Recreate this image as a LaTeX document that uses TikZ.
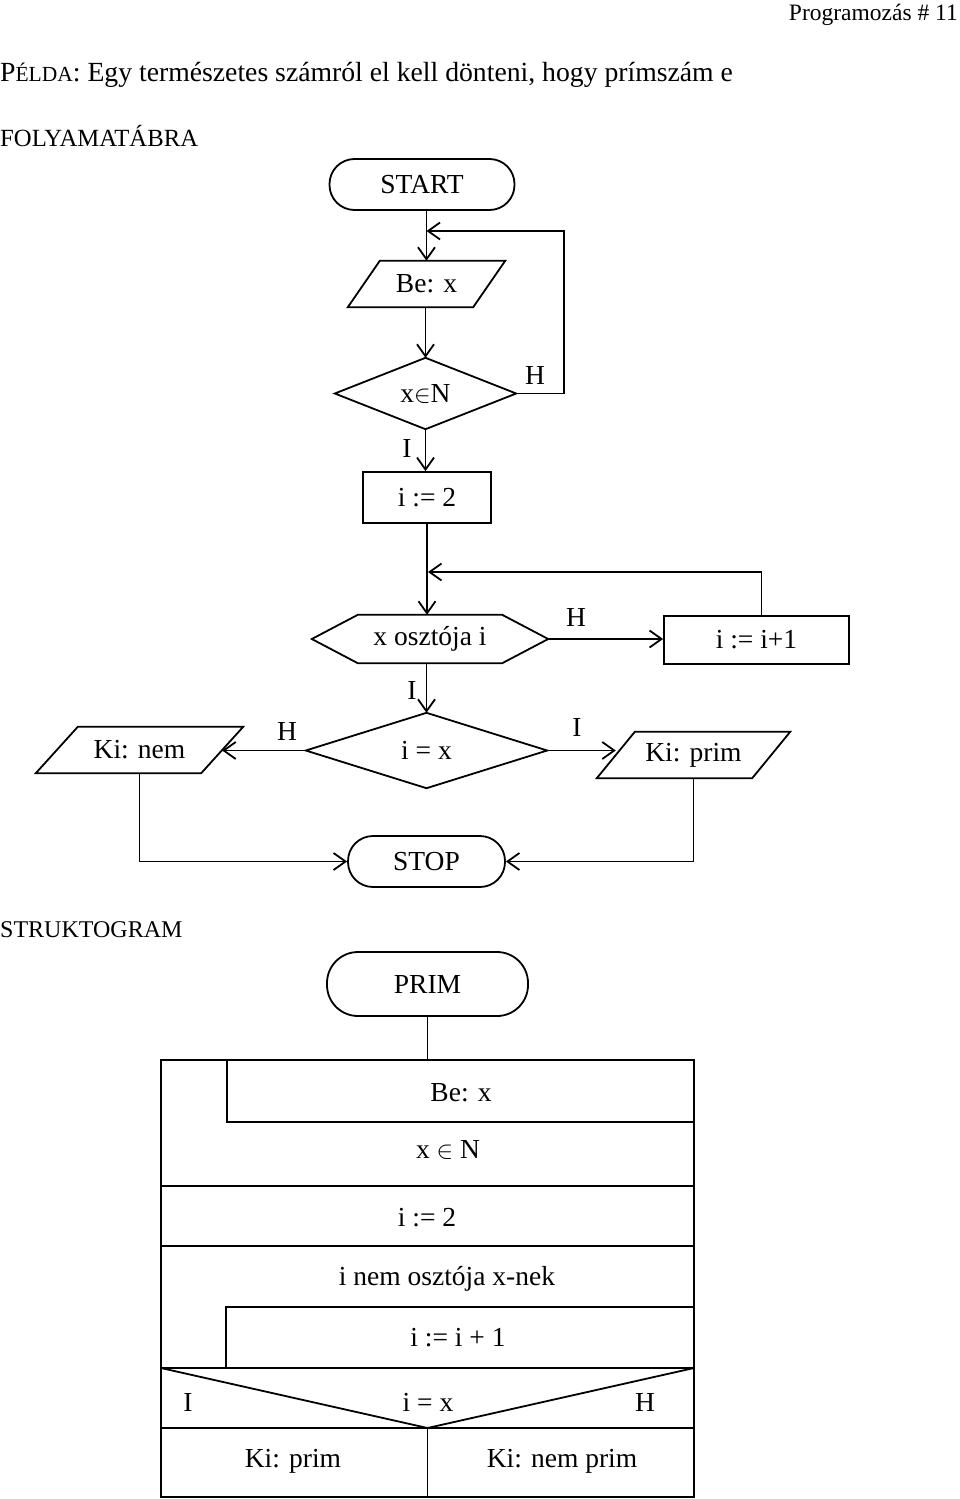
\documentclass[tikz,border=0pt]{standalone}
\usepackage{fontspec}
\setmainfont{Liberation Serif}
\usetikzlibrary{arrows.meta,calc}
\tikzset{
  every node/.style={font=\fontsize{27.5}{31}\selectfont, inner sep=0pt},
  lw/.style={line width=1.8pt},
  arr/.style={lw, -{Straight Barb[length=12pt,width=17pt,line width=1.8pt]}},
  plain/.style={rectangle, draw=none},
  boxed/.style={rectangle, draw, lw},
  term/.style={rectangle, draw, lw, rounded corners=#1},
  caption/.style={font=\fontsize{24}{28}\selectfont, anchor=base west},
}
\begin{document}
\begin{tikzpicture}[x=1pt,y=-1pt]
\useasboundingbox (0,0) rectangle (960,1499);

% header
\node[caption, font=\fontsize{23.5}{28}\selectfont, anchor=base east] (hdr) at (958,20) {Programozás \# 11};
\node[anchor=base west] (title) at (0,81) {{\fontsize{27.7}{31}\selectfont P}{\fontsize{21.5}{31}\selectfont ÉLDA}{\fontsize{27.7}{31}\selectfont : Egy természetes számról el kell dönteni, hogy prímszám e}};
\node[caption, font=\fontsize{24.7}{28}\selectfont] (fol) at (0,146) {FOLYAMATÁBRA};

% flowchart nodes
\node[term=25pt, minimum width=185pt, minimum height=51pt] (start) at (422,184.5) {START};
\node[plain, minimum width=157pt, minimum height=46pt] (bex) at (426.5,284) {Be: x};
\draw[lw] ([xshift=32pt]bex.north west) -- (bex.north east) -- ([xshift=-32pt]bex.south east) -- (bex.south west) -- cycle;
\node[plain, minimum width=181pt, minimum height=71pt] (d1) at (425.5,393.5) {x$\in$N};
\draw[lw] (d1.north) -- (d1.east) -- (d1.south) -- (d1.west) -- cycle;
\node[boxed, minimum width=128pt, minimum height=51pt] (i2) at (427,497.5) {i := 2};
\node[plain, minimum width=236pt, minimum height=48pt] (hex) at (430,639) {x osztója i};
\draw[lw] (hex.west) -- ([xshift=46pt]hex.north west) -- ([xshift=-46pt]hex.north east) -- (hex.east) -- ([xshift=-46pt]hex.south east) -- ([xshift=46pt]hex.south west) -- cycle;
\node[boxed, minimum width=185pt, minimum height=48pt] (inc) at (756.5,640) {i := i+1};
\node[plain, minimum width=241pt, minimum height=75pt] (d2) at (426.5,750.5) {i = x};
\draw[lw] (d2.north) -- (d2.east) -- (d2.south) -- (d2.west) -- cycle;
\node[plain, minimum width=207pt, minimum height=46pt] (kinem) at (139.5,750) {Ki: nem};
\draw[lw] ([xshift=42pt]kinem.north west) -- (kinem.north east) -- ([xshift=-42pt]kinem.south east) -- (kinem.south west) -- cycle;
\node[plain, minimum width=193pt, minimum height=46pt] (kiprim) at (693.5,755) {Ki: prim};
\draw[lw] ([xshift=38pt]kiprim.north west) -- (kiprim.north east) -- ([xshift=-38pt]kiprim.south east) -- (kiprim.south west) -- cycle;
\node[term=25pt, minimum width=157pt, minimum height=51pt] (stop) at (426.5,861.5) {STOP};

% connectors
\coordinate (loop1) at (564,231);
\coordinate (loop2) at (428,572);
\coordinate (knE) at ([xshift=-21pt]kinem.east);
\coordinate (kpW) at ([xshift=19pt]kiprim.west);
\draw[arr] (bex.center |- start.south) -- (bex.center |- bex.north);
\draw[arr] (d1.east) -| (loop1) -- (loop1 -| bex.center);
\draw[arr] (d1.north |- bex.south) -- (d1.north);
\draw[arr] (d1.south) -- (d1.south |- i2.north);
\draw[arr] (i2.south) -- (i2.south |- hex.north);
\draw[arr] ([xshift=5pt]inc.north) |- (loop2);
\draw[arr] (hex.east) -- (hex.east -| inc.west);
\draw[arr] (hex.south -| d2.north) -- (d2.north);
\draw[arr] (d2.west) -- (d2.west -| knE);
\draw[arr] (d2.east) -- (d2.east -| kpW);
\draw[arr] (kinem.south) |- (stop.west);
\draw[arr] (kiprim.south) |- (stop.east);

% branch labels
\node (l1) at (535,375) {H};
\node (l2) at (407,448) {I};
\node (l3) at (576,617) {H};
\node (l4) at (412,690) {I};
\node (l5) at (287,731) {H};
\node (l6) at (577,727) {I};

% struktogram
\node[caption] (str) at (0,937) {STRUKTOGRAM};
\node[term=31pt, minimum width=201pt, minimum height=64pt] (prim) at (427.5,984) {PRIM};
\node[boxed, minimum width=533pt, minimum height=437pt] (struk) at (427.5,1278.5) {};
\draw[lw] (prim.south) -- (prim.south |- struk.north);
\draw[lw] (227,1060) -- (227,1122) -- (694,1122);
\draw[lw] (161,1186) -- (694,1186);
\draw[lw] (161,1246) -- (694,1246);
\draw[lw] (226,1368) -- (226,1307) -- (694,1307);
\draw[lw] (161,1368) -- (694,1368);
\draw[lw] (161,1368) -- (427.5,1428) -- (694,1368);
\draw[lw] (161,1428) -- (694,1428);
\draw[lw] (427.5,1428) -- (427.5,1497);

\node (s1) at (461,1093) {Be: x};
\node (s2) at (448,1150) {x $\in$ N};
\node (s3) at (427,1218) {i := 2};
\node (s4) at (447,1279) {i nem osztója x-nek};
\node (s5) at (458,1338) {i := i + 1};
\node (s6) at (188,1402) {I};
\node (s7) at (428,1402) {i = x};
\node (s8) at (645,1402) {H};
\node (s9) at (293,1461) {Ki: prim};
\node (s10) at (562,1461) {Ki: nem prim};
\end{tikzpicture}
\end{document}
